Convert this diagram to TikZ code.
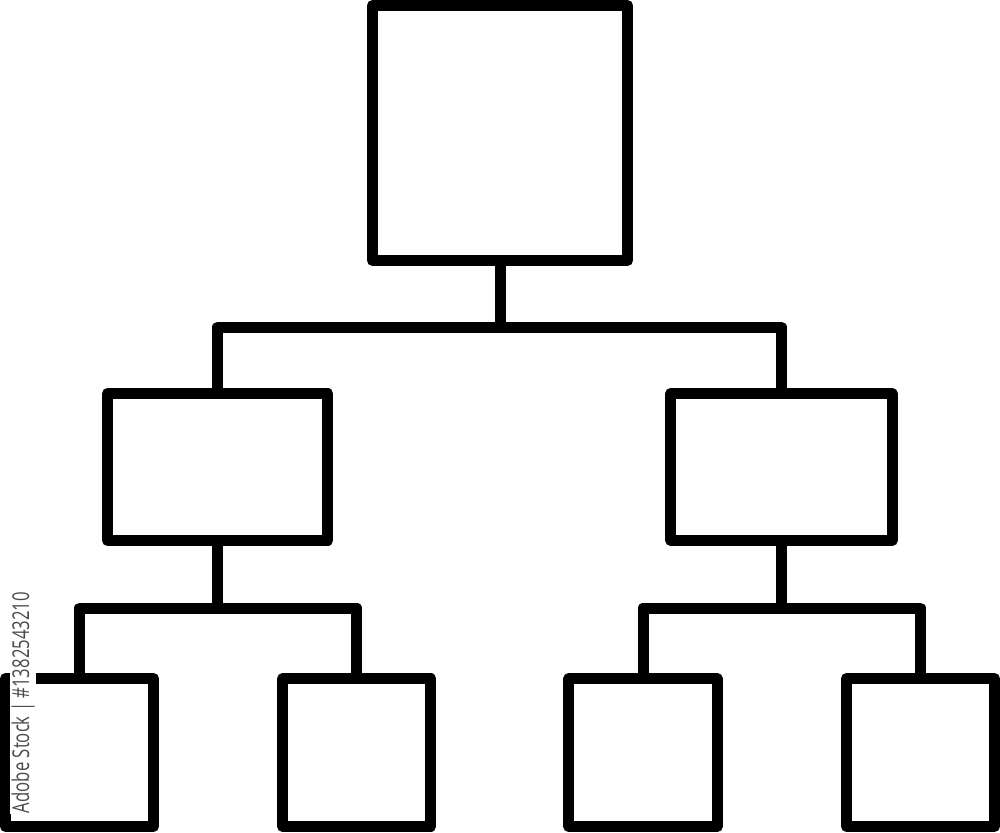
\documentclass[tikz,border=0pt]{standalone}
\usepackage{fontspec}
\newfontfamily\wmfont{Open Sans}
\begin{document}
\begin{tikzpicture}[x=0.01cm,y=-0.01cm,
  box/.style={draw=black, line width=3.13pt, line join=round, inner sep=0pt, outer sep=0pt},
  link/.style={draw=black, line width=3.13pt, line join=round},
  wmark/.style={rotate=90, text=black!70, fill=white, inner sep=0.3pt, font=\wmfont\fontsize{6.6}{7}\selectfont}]
\useasboundingbox (0,0) rectangle (1000,832);
\fill[white] (0,0) rectangle (1000,832);
% boxes
\node[box, minimum width=2.55cm, minimum height=2.55cm] (root) at (500,133) {};
\node[box, minimum width=2.20cm, minimum height=1.47cm] (ml) at (217.6,467) {};
\node[box, minimum width=2.21cm, minimum height=1.47cm] (mr) at (781.5,467) {};
\node[box, minimum width=1.48cm, minimum height=1.48cm] (b1) at (79.5,752.5) {};
\node[box, minimum width=1.48cm, minimum height=1.48cm] (b2) at (356.75,752.5) {};
\node[box, minimum width=1.48cm, minimum height=1.48cm] (b3) at (643,752.5) {};
\node[box, minimum width=1.48cm, minimum height=1.48cm] (b4) at (920.5,752.5) {};
% junctions
\coordinate (j1) at (500,327);
\coordinate (j2) at (217.6,608);
\coordinate (j3) at (781.5,608);
% connectors
\draw[link] (root.south) -- (j1);
\draw[link] (ml.north) |- (j1) -| (mr.north);
\draw[link] (ml.south) -- (j2);
\draw[link] (b1.north) |- (j2) -| (b2.north);
\draw[link] (mr.south) -- (j3);
\draw[link] (b3.north) |- (j3) -| (b4.north);
% watermark id
\node[wmark] (wm) at (23,702.5) {\scalebox{0.72}[1]{Adobe Stock | \#1382543210}};
\end{tikzpicture}
\end{document}
